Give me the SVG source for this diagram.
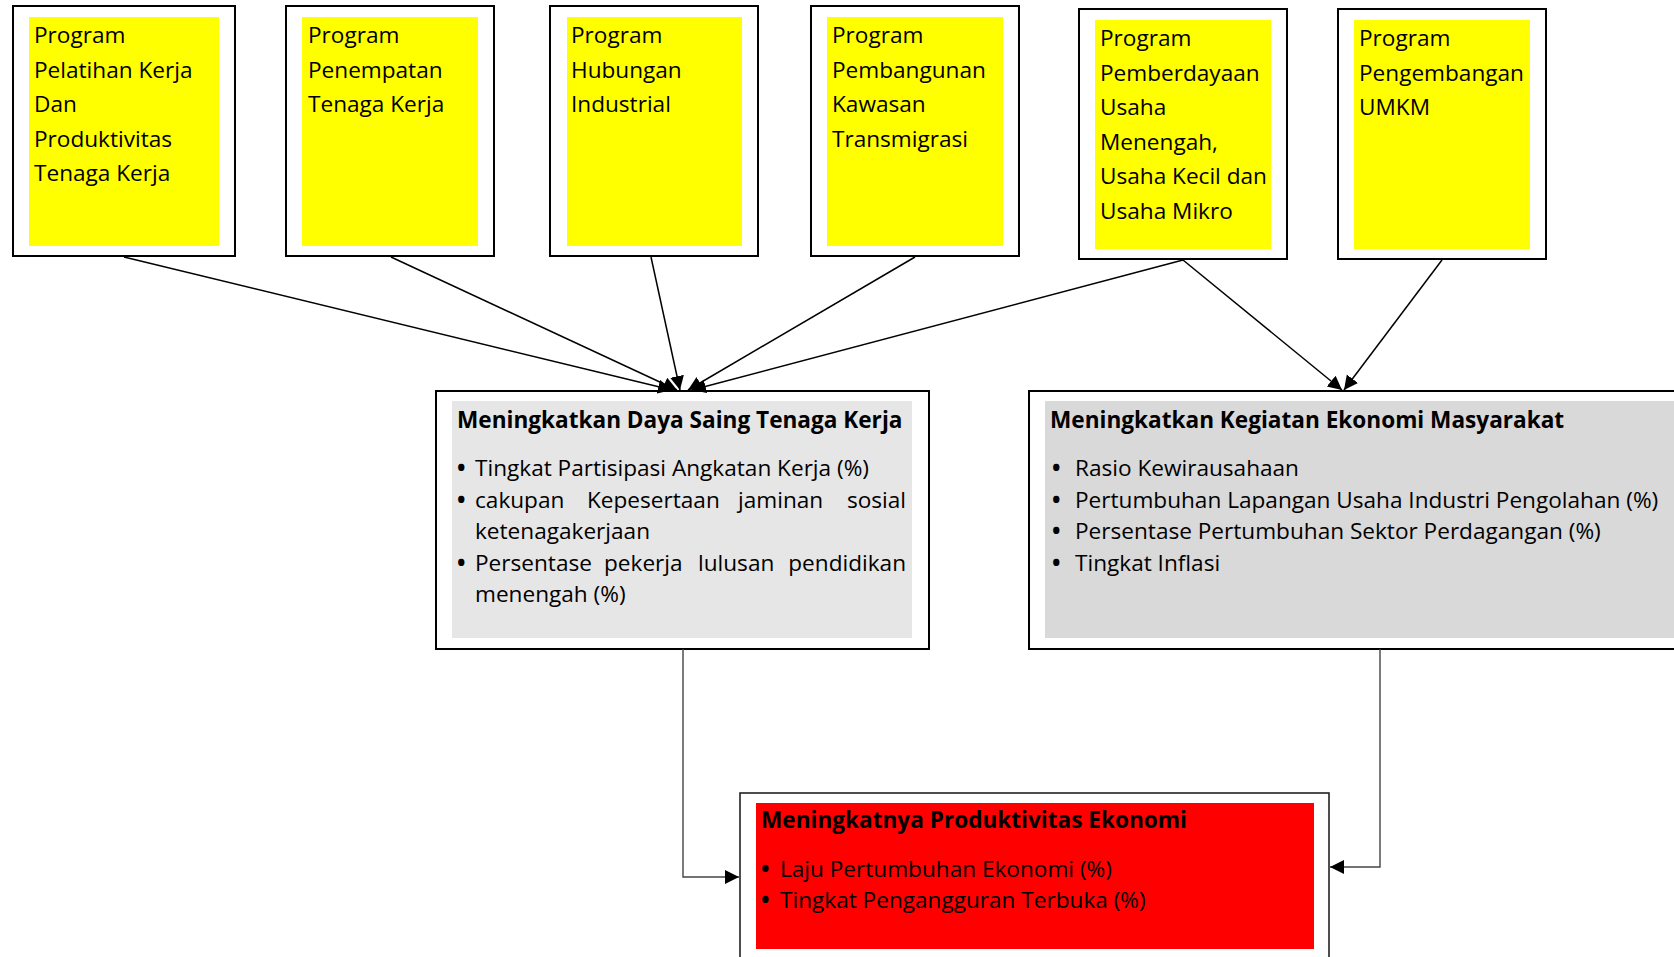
<svg xmlns="http://www.w3.org/2000/svg" width="1674" height="957" viewBox="0 0 1674 957">
<defs>
<style>
.frame{fill:#fff;stroke:#000;stroke-width:2}
.yel{fill:#ffff00}
.t{font-family:"Open Sans","Noto Sans","Liberation Sans",sans-serif;font-size:22.6px;fill:#000}
.b{font-family:"Open Sans","Noto Sans","Liberation Sans",sans-serif;font-size:22.6px;font-weight:bold;fill:#000}
.bu{font-weight:bold}
.c{fill:none;stroke:#000;stroke-width:1.5}
.g{fill:none;stroke:#444;stroke-width:1.4}
</style>
<marker id="ah" markerUnits="userSpaceOnUse" markerWidth="15" markerHeight="15" refX="14" refY="7" orient="auto">
<path d="M0,0 L14,7 L0,14 z" fill="#000"/>
</marker>
</defs>
<rect width="1674" height="957" fill="#fff"/>

<g id="p1">
<rect class="frame" x="13" y="6" width="222" height="250"/>
<rect class="yel" x="29" y="17" width="190" height="229"/>
<text class="t" x="34" y="43">Program</text>
<text class="t" x="34" y="78">Pelatihan Kerja</text>
<text class="t" x="34" y="112">Dan</text>
<text class="t" x="34" y="147">Produktivitas</text>
<text class="t" x="34" y="181">Tenaga Kerja</text>
</g>
<g id="p2">
<rect class="frame" x="286" y="6" width="208" height="250"/>
<rect class="yel" x="302" y="17" width="176" height="229"/>
<text class="t" x="308" y="43">Program</text>
<text class="t" x="308" y="78">Penempatan</text>
<text class="t" x="308" y="112">Tenaga Kerja</text>
</g>
<g id="p3">
<rect class="frame" x="550" y="6" width="208" height="250"/>
<rect class="yel" x="567" y="17" width="175" height="229"/>
<text class="t" x="571" y="43">Program</text>
<text class="t" x="571" y="78">Hubungan</text>
<text class="t" x="571" y="112">Industrial</text>
</g>
<g id="p4">
<rect class="frame" x="811" y="6" width="208" height="250"/>
<rect class="yel" x="827" y="17" width="176" height="229"/>
<text class="t" x="832" y="43">Program</text>
<text class="t" x="832" y="78">Pembangunan</text>
<text class="t" x="832" y="112">Kawasan</text>
<text class="t" x="832" y="147">Transmigrasi</text>
</g>
<g id="p5">
<rect class="frame" x="1079" y="9" width="208" height="250"/>
<rect class="yel" x="1095" y="20" width="176" height="229"/>
<text class="t" x="1100" y="46">Program</text>
<text class="t" x="1100" y="81">Pemberdayaan</text>
<text class="t" x="1100" y="115">Usaha</text>
<text class="t" x="1100" y="150">Menengah,</text>
<text class="t" x="1100" y="184">Usaha Kecil dan</text>
<text class="t" x="1100" y="219">Usaha Mikro</text>
</g>
<g id="p6">
<rect class="frame" x="1338" y="9" width="208" height="250"/>
<rect class="yel" x="1354" y="20" width="176" height="229"/>
<text class="t" x="1359" y="46">Program</text>
<text class="t" x="1359" y="81">Pengembangan</text>
<text class="t" x="1359" y="115">UMKM</text>
</g>

<g id="goal1">
<rect class="frame" x="436" y="391" width="493" height="258"/>
<rect x="452" y="401" width="460" height="237" fill="#e6e6e6"/>
<text class="b" x="457" y="428">Meningkatkan Daya Saing Tenaga Kerja</text>
<text class="t" y="476"><tspan class="bu" x="457">•</tspan><tspan x="475">Tingkat Partisipasi Angkatan Kerja (%)</tspan></text>
<text class="t" y="508"><tspan class="bu" x="457">•</tspan><tspan x="475">cakupan</tspan><tspan x="587">Kepesertaan</tspan><tspan x="738">jaminan</tspan><tspan x="906" text-anchor="end">sosial</tspan></text>
<text class="t" x="475" y="539">ketenagakerjaan</text>
<text class="t" y="571"><tspan class="bu" x="457">•</tspan><tspan x="475">Persentase</tspan><tspan x="604">pekerja</tspan><tspan x="698">lulusan</tspan><tspan x="906" text-anchor="end">pendidikan</tspan></text>
<text class="t" x="475" y="602">menengah (%)</text>
</g>

<g id="goal2">
<rect class="frame" x="1029" y="391" width="700" height="258"/>
<rect x="1045" y="401" width="680" height="237" fill="#d9d9d9"/>
<text class="b" x="1050" y="428">Meningkatkan Kegiatan Ekonomi Masyarakat</text>
<text class="t" y="476"><tspan class="bu" x="1052">•</tspan><tspan x="1075">Rasio Kewirausahaan</tspan></text>
<text class="t" y="508"><tspan class="bu" x="1052">•</tspan><tspan x="1075">Pertumbuhan Lapangan Usaha Industri Pengolahan (%)</tspan></text>
<text class="t" y="539"><tspan class="bu" x="1052">•</tspan><tspan x="1075">Persentase Pertumbuhan Sektor Perdagangan (%)</tspan></text>
<text class="t" y="571"><tspan class="bu" x="1052">•</tspan><tspan x="1075">Tingkat Inflasi</tspan></text>
</g>

<g id="impact">
<rect x="740" y="793" width="589" height="180" fill="#fff" stroke="#222" stroke-width="1.6"/>
<rect x="756" y="803" width="558" height="146" fill="#ff0000"/>
<text class="b" x="761" y="828">Meningkatnya Produktivitas Ekonomi</text>
<text class="t" y="877"><tspan class="bu" x="761">•</tspan><tspan x="780">Laju Pertumbuhan Ekonomi (%)</tspan></text>
<text class="t" y="908"><tspan class="bu" x="761">•</tspan><tspan x="780">Tingkat Pengangguran Terbuka (%)</tspan></text>
</g>

<g id="connectors">
<line class="c" x1="124" y1="257" x2="672" y2="390" marker-end="url(#ah)"/>
<line class="c" x1="391" y1="257" x2="677" y2="390" marker-end="url(#ah)"/>
<line class="c" x1="651" y1="257" x2="680" y2="390" marker-end="url(#ah)"/>
<line class="c" x1="915" y1="257" x2="688" y2="390" marker-end="url(#ah)"/>
<line class="c" x1="1183" y1="260" x2="692" y2="390" marker-end="url(#ah)"/>
<line class="c" x1="1183" y1="260" x2="1342" y2="390" marker-end="url(#ah)"/>
<line class="c" x1="1442" y1="260" x2="1344" y2="390" marker-end="url(#ah)"/>
<polyline class="g" points="683,649 683,877 739,877" marker-end="url(#ah)"/>
<polyline class="g" points="1380,649 1380,867 1330,867" marker-end="url(#ah)"/>
</g>
</svg>
